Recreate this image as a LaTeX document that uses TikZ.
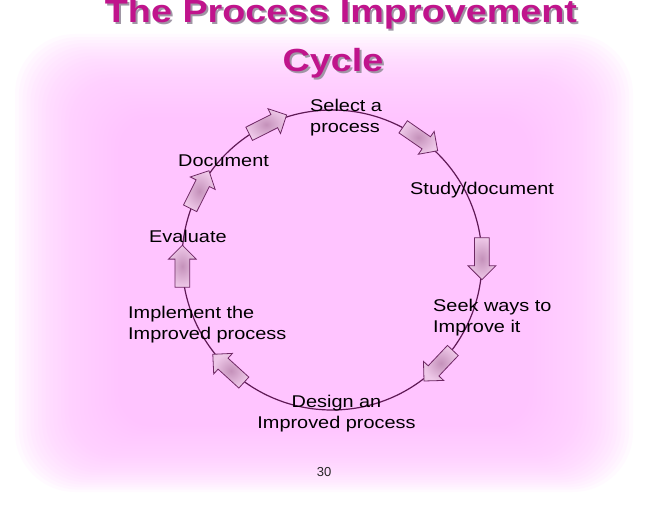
\documentclass[tikz,border=0pt]{standalone}
\usepackage{fontspec}
\setmainfont{Liberation Sans}
\newfontfamily\labfont[FakeStretch=1.17]{Liberation Sans}
\newfontfamily\titfont[FakeStretch=1.18]{Liberation Sans}
\usetikzlibrary{shapes.arrows}
\definecolor{bgpink}{RGB}{255,196,255}
\definecolor{titlecol}{RGB}{192,20,140}
\definecolor{titleshadow}{RGB}{160,150,165}
\definecolor{ringcol}{RGB}{95,25,85}
\definecolor{arrlight}{RGB}{238,200,232}
\definecolor{arrdark}{RGB}{196,145,186}
\definecolor{arredge}{RGB}{110,40,100}
\newcommand{\shadowed}[1]{\makebox[0pt][l]{\hspace{2pt}\raisebox{-2pt}{\textcolor{titleshadow}{#1}}}\textcolor{titlecol}{#1}}
\tikzset{
  blockarrow/.style={single arrow, draw=arredge, line width=0.8pt,
    inner color=arrdark, outer color=arrlight,
    minimum height=42pt, minimum width=0pt, inner sep=7pt,
    single arrow head extend=6.5pt},
  lab/.style={font=\labfont\fontsize{17}{21}\selectfont, inner sep=0pt, text=black},
  titletext/.style={font=\titfont\bfseries\fontsize{32}{40}\selectfont, inner sep=0pt},
  ring/.style={draw=ringcol, line width=1.2pt}
}
\begin{document}
\begin{tikzpicture}[x=1pt,y=1pt]
\useasboundingbox (0,0) rectangle (648,504);
\fill[white] (0,0) rectangle (648,504);
% soft pink background
\foreach \i in {0,...,39}{
  \pgfmathsetmacro\t{\i/39}
  \pgfmathsetmacro\xl{15+150*\t}
  \pgfmathsetmacro\xr{633-150*\t}
  \pgfmathsetmacro\yb{12+95*\t}
  \pgfmathsetmacro\yt{470-120*\t}
  \pgfmathsetmacro\rc{60-40*\t}
  \fill[bgpink, opacity=0.075, rounded corners=\rc pt] (\xl,\yb) rectangle (\xr,\yt);
}
% title
\node[titletext, anchor=base] (t1) at (341,481) {\shadowed{The Process Improvement}};
\node[titletext, anchor=base] (t2) at (333,432) {\shadowed{Cycle}};
% cycle
\coordinate (C) at (332,244);
\draw[ring] (C) circle (150pt);
\node[blockarrow, rotate=26.7] (a1) at ([shift={(116.7:150pt)}]C) {};
\node[blockarrow, rotate=-34.7] (a2) at ([shift={(55.3:150pt)}]C) {};
\node[blockarrow, rotate=-90] (a3) at ([shift={(1.9:150pt)}]C) {};
\node[blockarrow, rotate=-133.4] (a4) at ([shift={(-43.4:150pt)}]C) {};
\node[blockarrow, rotate=137.7] (a5) at ([shift={(-132.3:150pt)}]C) {};
\node[blockarrow, rotate=90] (a6) at ([shift={(183.8:150pt)}]C) {};
\node[blockarrow, rotate=63.4] (a7) at ([shift={(153.4:150pt)}]C) {};
% labels
\node[lab, anchor=west, align=left] (sel) at (310,386.5) {Select a\\process};
\node[lab, anchor=base west] (doc) at (178,337) {Document};
\node[lab, anchor=base west] (study) at (410,309) {Study/document};
\node[lab, anchor=base west] (eval) at (149,261) {Evaluate};
\node[lab, anchor=west, align=left] (seek) at (433,186.5) {Seek ways to\\Improve it};
\node[lab, anchor=west, align=left] (impl) at (128,179) {Implement the\\Improved process};
\node[lab, align=center] (design) at (336.5,90.5) {Design an\\Improved process};
\node[font=\fontsize{13}{15}\selectfont, text=black!85, inner sep=0pt] (page) at (324,32) {30};
\end{tikzpicture}
\end{document}
